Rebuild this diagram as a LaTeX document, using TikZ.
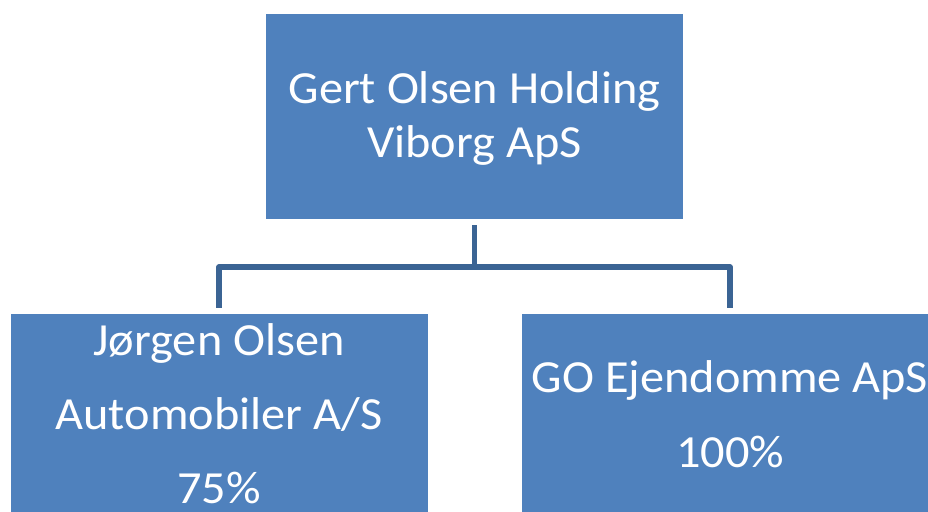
\documentclass[tikz,border=0pt]{standalone}
\usepackage{fontspec}
\setmainfont[FakeStretch=1.05]{Carlito}
\definecolor{boxblue}{HTML}{4F81BD}
\definecolor{connblue}{HTML}{3B6494}
\begin{document}
\begin{tikzpicture}[x=1pt,y=-1pt,
  orgbox/.style={fill=boxblue,draw=none,minimum width=417pt,inner sep=0pt},
  conn/.style={draw=connblue,line width=5.5pt,line join=round,shorten <=6pt,shorten >=6pt},
  txt/.style={text=white,font=\fontsize{46}{55}\selectfont,anchor=base,inner sep=0pt}]
\useasboundingbox[fill=white] (0,0) rectangle (928,511);
\begin{scope}
\clip (0,0) rectangle (928,511);
\node[orgbox,minimum height=205pt] (top) at (474.5,116.5) {};
\node[orgbox,minimum height=202pt] (left) at (219,415) {};
\node[orgbox,minimum height=202pt] (right) at (730,415) {};
\coordinate (mid) at ([yshift=-48pt]top.south);
\draw[conn,shorten >=0pt] (top.south) -- (mid);
\draw[conn] (left.north) |- (mid) -| (right.north);
\node[txt] (t1) at (474.5,103) {Gert Olsen Holding};
\node[txt] (t2) at (474.5,157) {Viborg ApS};
\node[txt] (l1) at (219,355) {Jørgen Olsen};
\node[txt] (l2) at (219,429) {Automobiler A/S};
\node[txt] (l3) at (219,503) {75\%};
\node[txt] (r1) at (730,392) {GO Ejendomme ApS};
\node[txt] (r2) at (730,467) {100\%};
\end{scope}
\end{tikzpicture}
\end{document}
